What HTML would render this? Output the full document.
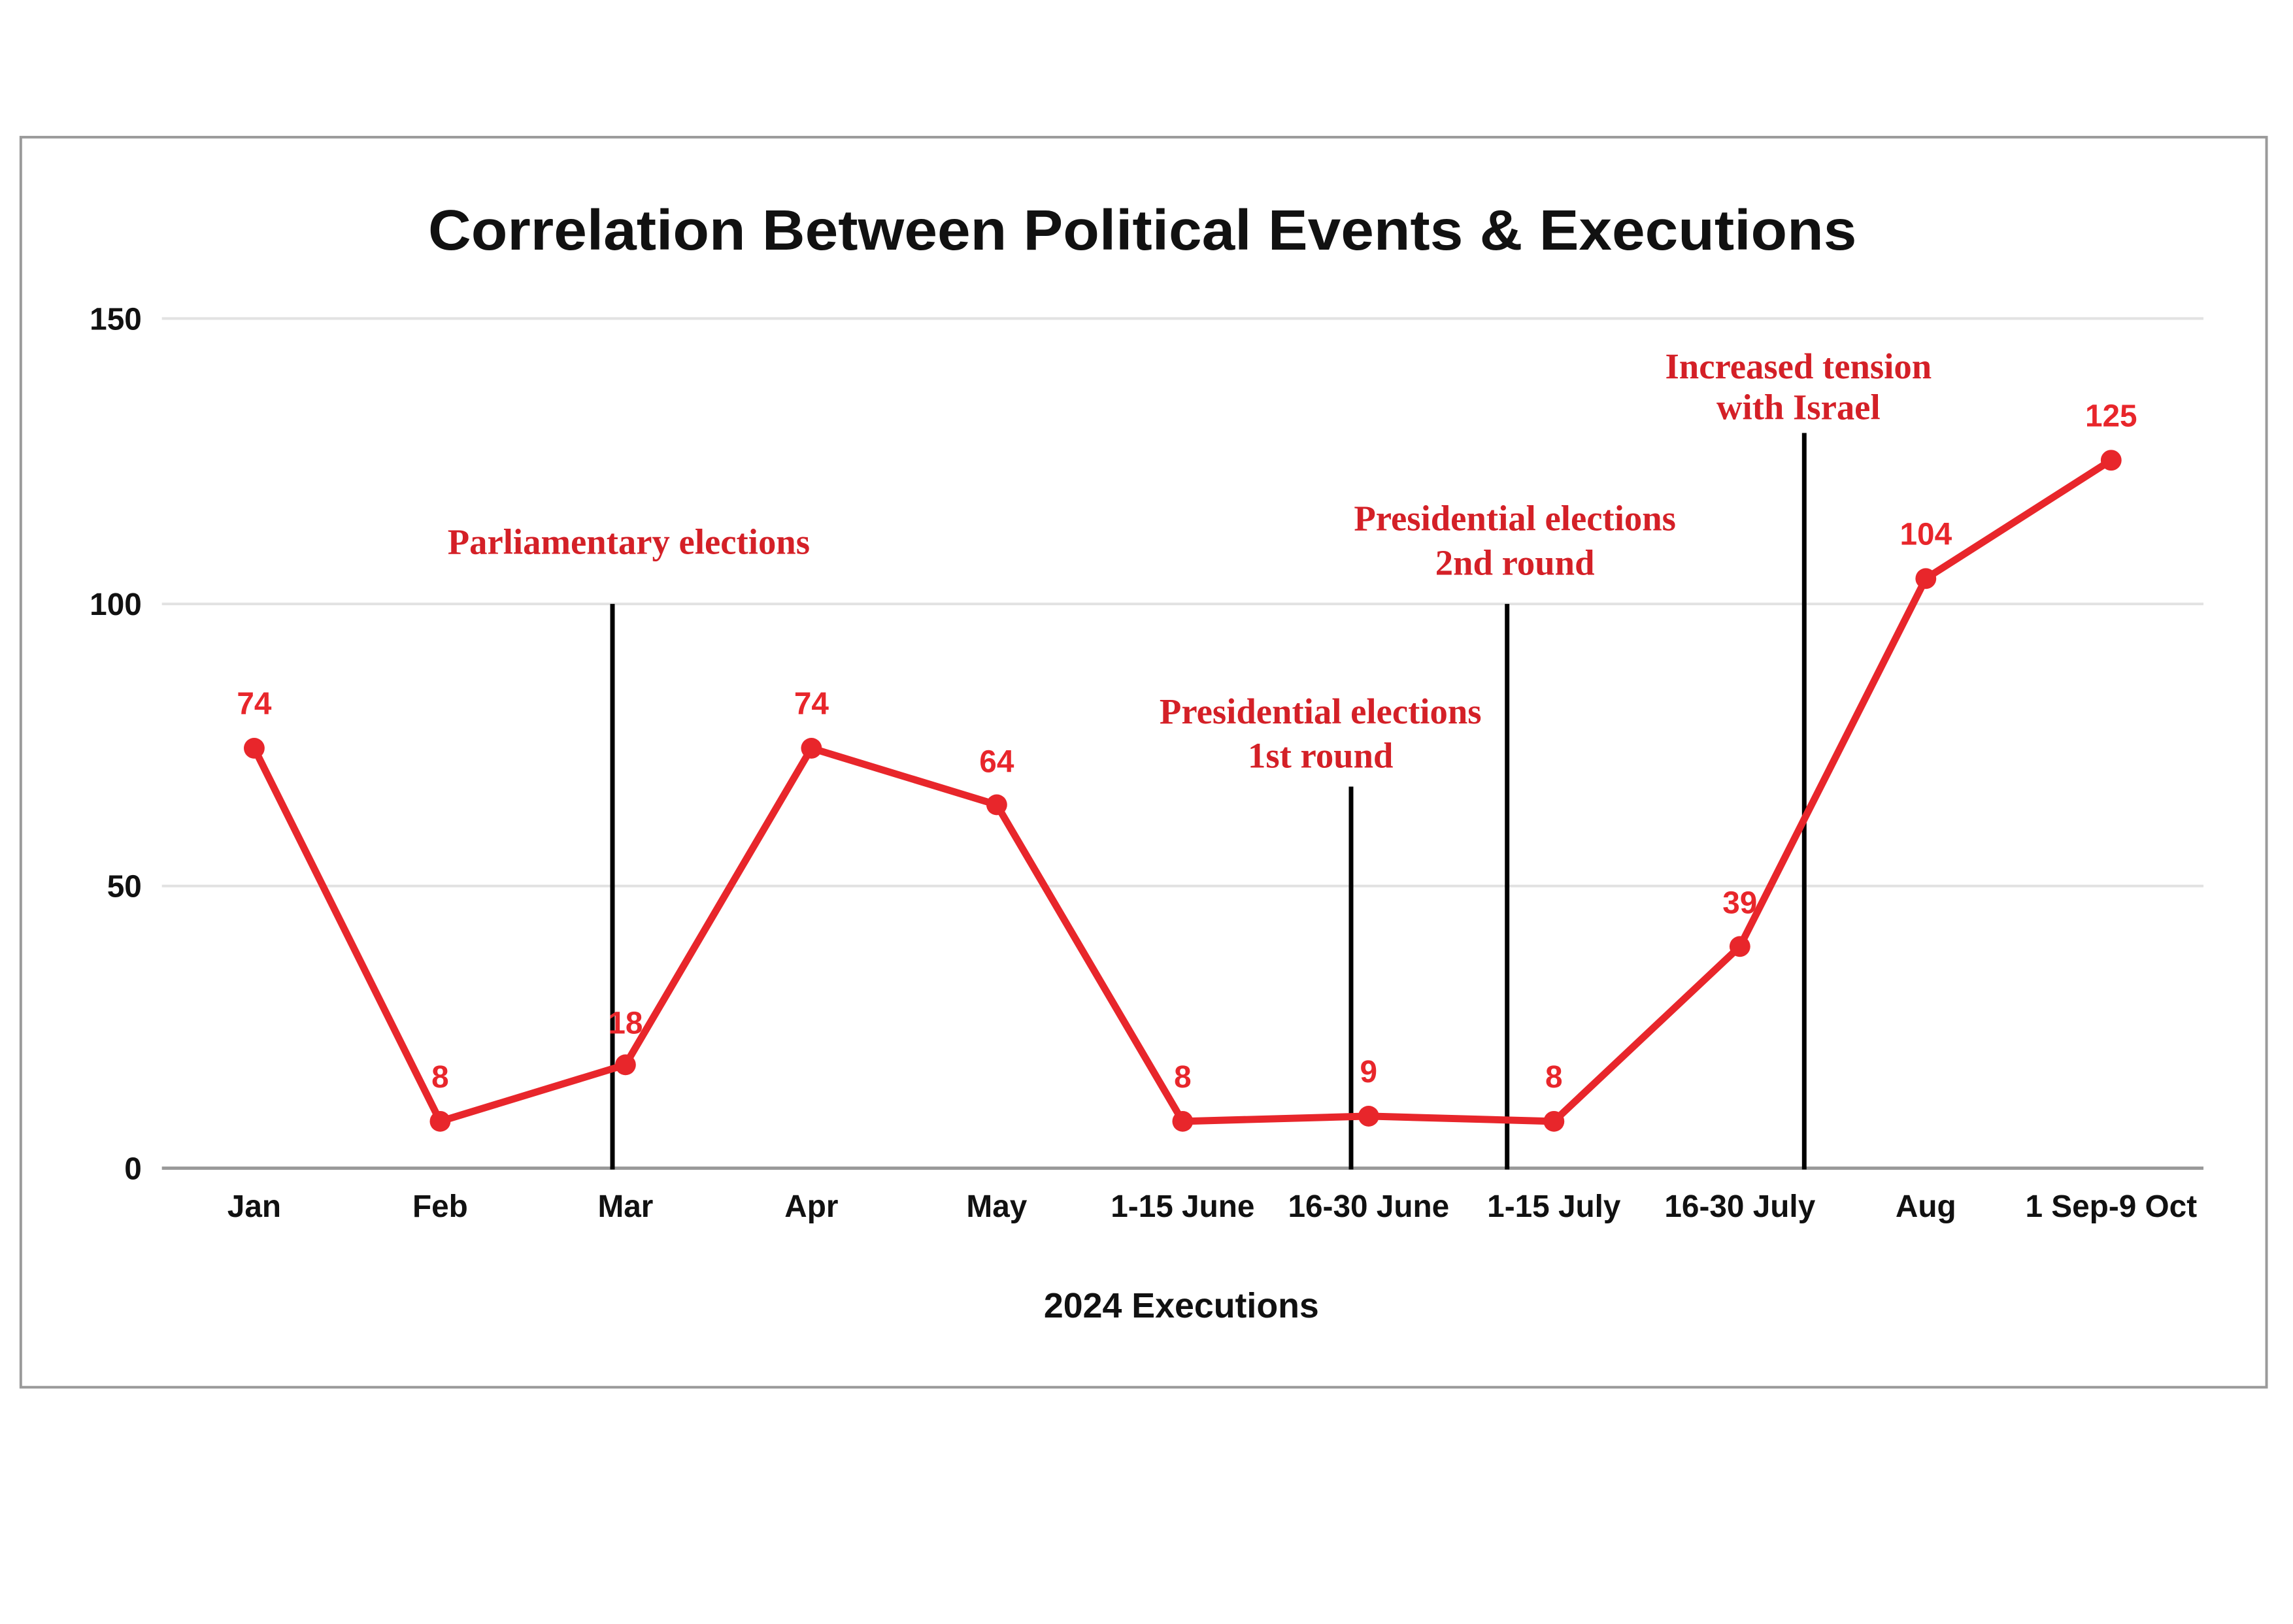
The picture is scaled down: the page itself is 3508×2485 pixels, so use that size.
<!DOCTYPE html>
<html><head><meta charset="utf-8"><style>html,body{margin:0;padding:0;background:#fff}</style></head>
<body>
<svg width="3508" height="2480" xmlns="http://www.w3.org/2000/svg">
<rect x="0" y="0" width="3508" height="2480" fill="#fff"/>
<g transform="scale(0.9947)">
<rect x="32" y="211" width="3454" height="1923" fill="#fff" stroke="#9a9a9a" stroke-width="4"/>
<text x="1757" y="384" text-anchor="middle" font-family="Liberation Sans, sans-serif" font-weight="bold" font-size="88" textLength="2197" lengthAdjust="spacingAndGlyphs" fill="#111">Correlation Between Political Events &amp; Executions</text>
<g stroke="#e2e2e2" stroke-width="4">
<line x1="249" y1="490" x2="3389" y2="490"/>
<line x1="249" y1="929" x2="3389" y2="929"/>
<line x1="249" y1="1363" x2="3389" y2="1363"/>
</g>
<line x1="249" y1="1797" x2="3389" y2="1797" stroke="#9a9a9a" stroke-width="5"/>
<g font-family="Liberation Sans, sans-serif" font-weight="bold" font-size="48" fill="#111" text-anchor="end">
<text x="218" y="507">150</text><text x="218" y="946">100</text><text x="218" y="1380">50</text><text x="218" y="1814">0</text>
</g>
<g font-family="Liberation Sans, sans-serif" font-weight="bold" font-size="48" fill="#111" text-anchor="middle">
<text x="391" y="1872">Jan</text><text x="677" y="1872">Feb</text><text x="962" y="1872">Mar</text><text x="1248" y="1872">Apr</text><text x="1533" y="1872">May</text><text x="1819" y="1872">1-15 June</text><text x="2105" y="1872">16-30 June</text><text x="2390" y="1872">1-15 July</text><text x="2676" y="1872">16-30 July</text><text x="2962" y="1872">Aug</text><text x="3247" y="1872">1 Sep-9 Oct</text>
<text x="1817" y="2027" font-size="54">2024 Executions</text>
</g>
<g stroke="#000" stroke-width="7">
<line x1="942" y1="929" x2="942" y2="1799"/>
<line x1="2078" y1="1210" x2="2078" y2="1799"/>
<line x1="2318" y1="929" x2="2318" y2="1799"/>
<line x1="2775" y1="666" x2="2775" y2="1799"/>
</g>
<polyline fill="none" stroke="#e8262b" stroke-width="11" stroke-linejoin="round" points="391,1151 677,1725 962,1638 1248,1151 1533,1238 1819,1725 2105,1717 2390,1725 2676,1456 2962,890 3247,708"/>
<g fill="#e8262b">
<circle cx="391" cy="1151" r="16"/><circle cx="677" cy="1725" r="16"/><circle cx="962" cy="1638" r="16"/><circle cx="1248" cy="1151" r="16"/><circle cx="1533" cy="1238" r="16"/><circle cx="1819" cy="1725" r="16"/><circle cx="2105" cy="1717" r="16"/><circle cx="2390" cy="1725" r="16"/><circle cx="2676" cy="1456" r="16"/><circle cx="2962" cy="890" r="16"/><circle cx="3247" cy="708" r="16"/>
</g>
<g font-family="Liberation Sans, sans-serif" font-weight="bold" font-size="48" fill="#e8262b" text-anchor="middle">
<text x="391" y="1099">74</text><text x="677" y="1673">8</text><text x="962" y="1590">18</text><text x="1248" y="1099">74</text><text x="1533" y="1188">64</text><text x="1819" y="1673">8</text><text x="2105" y="1665">9</text><text x="2390" y="1673">8</text><text x="2676" y="1405">39</text><text x="2962" y="838">104</text><text x="3247" y="656">125</text>
</g>
<g font-family="Liberation Serif, serif" font-weight="bold" font-size="55" fill="#d42027" text-anchor="middle">
<text x="967" y="852">Parliamentary elections</text>
<text x="2031" y="1113">Presidential elections</text><text x="2031" y="1181">1st round</text>
<text x="2330" y="816">Presidential elections</text><text x="2330" y="884">2nd round</text>
<text x="2766" y="582">Increased tension</text><text x="2766" y="645">with Israel</text>
</g>
</g>
</svg>
</body></html>
